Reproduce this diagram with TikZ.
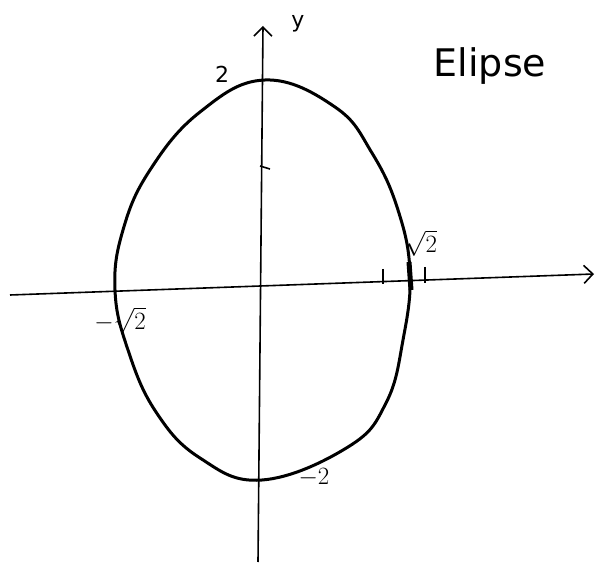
\documentclass[tikz,border=0pt]{standalone}
\usepackage{fontspec}
\setsansfont{DejaVu Sans}
\usepackage{tikz}
\usetikzlibrary{shapes,arrows,arrows.meta,positioning,calc}

\begin{document}
\begin{tikzpicture}[
        x=1pt, y=-1pt,
        axis/.style={
                -{Straight Barb[length=9pt,width=18pt,line width=1.6pt]},
                line width=1.6pt
            },
        curve/.style={
                line width=3pt,
                line join=round
            },
        tickline/.style={
                line width=1.6pt
            },
        handtext/.style={
                font=\sffamily\fontsize{22}{24}\selectfont,
                inner sep=0pt
            }
    ]
    \useasboundingbox (0,0) rectangle (595,564);

    % Ejes
    \coordinate (xstart) at (10,295);
    \coordinate (xend) at (594,274);
    \coordinate (ystart) at (258,562);
    \coordinate (yend) at (263,26);
    \draw[axis] (xstart) -- (xend);
    \draw[axis] (ystart) -- (yend);

    % Elipse (a mano)
    \draw[curve] plot[smooth cycle, tension=0.7] coordinates {
            (265,80) (335,107) (372,153) (398,210) (410,273) (403,340)
            (386,403) (348,447) (262,480) (200,458) (156,412) (128,350)
            (115,290) (123,230) (150,170) (200,112)
        };

    % Marcas
    \draw[tickline] (383,269) -- (383,284);
    \draw[tickline] (425,267) -- (425,283);
    \draw[tickline] (260,166) -- (270,169);
    \draw[line width=5pt] (409,262) -- (411,290);

    % Etiquetas
    \node[handtext] (ylabel) at (298,24) {y};
    \node[handtext] (top) at (222,74) {2};
    \node[handtext, font=\fontsize{24}{26}\selectfont] (right) at (421,243) {$\sqrt{2}$};
    \node[handtext, font=\fontsize{24}{26}\selectfont] (left) at (120,320) {$-\sqrt{2}$};
    \node[handtext, font=\fontsize{24}{26}\selectfont] (bottom) at (314,478) {$-2$};
    \node[handtext, font=\sffamily\fontsize{38}{40}\selectfont] (title) at (490,66) {Elipse};
\end{tikzpicture}
\end{document}
